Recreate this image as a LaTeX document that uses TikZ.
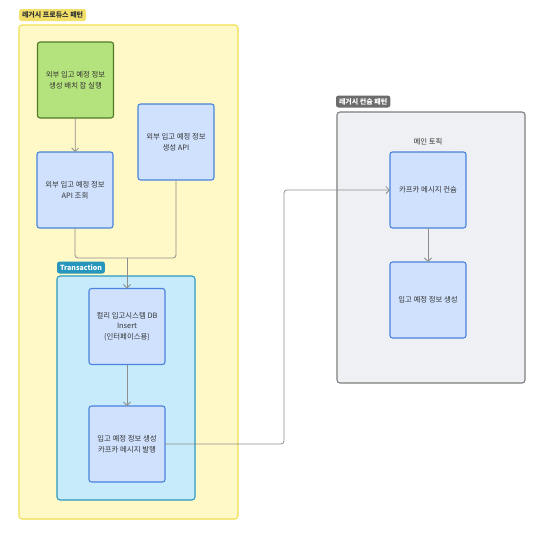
\documentclass[tikz,border=0pt]{standalone}
\usepackage{fontspec}
\setmainfont{Noto Sans CJK KR}
\usetikzlibrary{arrows.meta}
\definecolor{ygfill}{HTML}{FFF8C7}
\definecolor{ygdraw}{HTML}{F2DF52}
\definecolor{yglab}{HTML}{F3E06A}
\definecolor{gfill}{HTML}{B4E27C}
\definecolor{gdraw}{HTML}{4F7A28}
\definecolor{bfill}{HTML}{CFE1FD}
\definecolor{bdraw}{HTML}{4A84DC}
\definecolor{tfill}{HTML}{C7EBFB}
\definecolor{tdraw}{HTML}{2B9BC2}
\definecolor{tlab}{HTML}{2796BD}
\definecolor{grfill}{HTML}{EEF0F3}
\definecolor{grdraw}{HTML}{7E7E7E}
\definecolor{grlab}{HTML}{6C6C6C}
\definecolor{conn}{HTML}{8E8E8E}
\definecolor{txt}{HTML}{333333}
\tikzset{
  x=1pt,y=-1pt,
  every node/.style={font=\fontsize{7.4}{10.5}\selectfont, text=txt, inner sep=0pt, outer sep=0pt},
  procbox/.style={draw=bdraw, fill=bfill, line width=1.1pt, rounded corners=2.5pt, minimum width=76pt, minimum height=76pt, align=center},
  greenbox/.style={procbox, draw=gdraw, fill=gfill},
  grp/.style={line width=1.1pt, rounded corners=3pt},
  glabel/.style={rounded corners=2.5pt, inner xsep=3pt, minimum height=12pt, anchor=north west, font=\fontsize{7}{8}\bfseries\selectfont},
  flow/.style={draw=conn, line width=0.8pt, rounded corners=3pt, -{Straight Barb[length=3.5pt,width=7pt]}},
  plain/.style={draw=conn, line width=0.8pt, rounded corners=3pt}
}
\begin{document}
\begin{tikzpicture}
\useasboundingbox (0,0) rectangle (544,544);
% groups
\node[grp, draw=ygdraw, fill=ygfill, minimum width=219pt, minimum height=494pt] (yg) at (128.5,272) {};
\node[glabel, fill=yglab] (yglabel) at (19,9) {레거시 프로듀스 패턴};
\node[grp, draw=tdraw, fill=tfill, minimum width=138pt, minimum height=224pt] (tg) at (126,388) {};
\node[glabel, fill=tlab, text=white] (tglabel) at (57,261.5) {Transaction};
\node[grp, draw=grdraw, fill=grfill, minimum width=188pt, minimum height=271pt] (gg) at (431,247.5) {};
\node[glabel, fill=grlab, text=white] (gglabel) at (336,95.5) {레거시 컨슘 패턴};
% nodes
\node[greenbox] (batch) at (75.5,80) {외부 입고 예정 정보\\생성 배치 잡 실행};
\node[procbox] (apiq) at (75,190) {외부 입고 예정 정보\\API 조회};
\node[procbox] (apic) at (176,142) {외부 입고 예정 정보\\생성 API};
\node[procbox] (dbins) at (127,326.5) {컬리 입고시스템 DB\\Insert\\(인터페이스용)};
\node[procbox] (pub) at (127,444) {입고 예정 정보 생성\\카프카 메시지 발행};
\node (topic) at (428,142) {메인 토픽};
\node[procbox] (cons) at (428,190) {카프카 메시지 컨슘};
\node[procbox] (create) at (428,300) {입고 예정 정보 생성};
\coordinate (merge) at (127,258);
% connectors
\draw[flow] (batch) -- (apiq);
\draw[plain] (apiq.south) |- (merge);
\draw[plain] (apic.south) |- (merge);
\draw[flow] (merge) -- (dbins.north);
\draw[flow] (dbins) -- (pub);
\draw[flow] (pub.east) -- (284,444) -- (284,190) -- (cons.west);
\draw[flow] (cons) -- (create);
\end{tikzpicture}
\end{document}
